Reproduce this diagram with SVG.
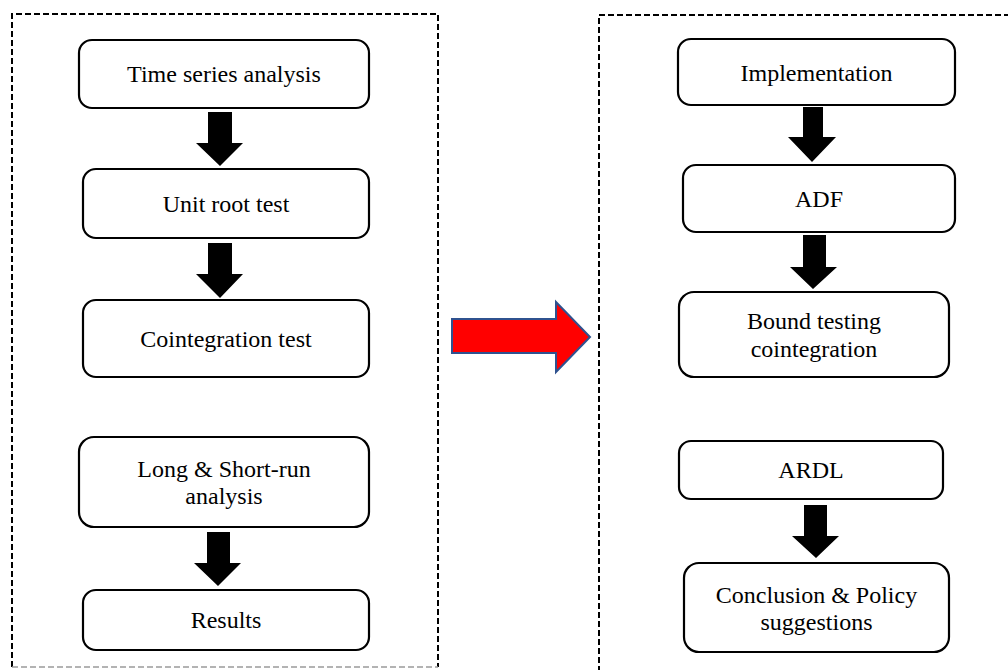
<svg xmlns="http://www.w3.org/2000/svg" width="1008" height="670" viewBox="0 0 1008 670">
  <style>
    .frame { fill: none; stroke: #000; stroke-width: 2; stroke-dasharray: 6 3; }
    .box { fill: #fff; stroke: #000; stroke-width: 2.2; }
    .lbl { font-family: "Liberation Serif", "Times New Roman", serif; font-size: 24px; fill: #000; text-anchor: middle; }
    .down { fill: #000; }
  </style>
  <rect width="1008" height="670" fill="#fff"/>

  <!-- dashed frames -->
  <g id="frame-left">
    <path class="frame" d="M12,667 V14 H438 V667"/>
    <path d="M12,667 H438" fill="none" stroke="#9a9a9a" stroke-width="1.5" stroke-dasharray="6 3"/>
  </g>
  <g id="frame-right">
    <path class="frame" d="M599,672 V15 H1012"/>
  </g>

  <!-- left column -->
  <g id="n-time-series">
    <rect class="box" x="79" y="40" width="290" height="68" rx="13"/>
    <text class="lbl" x="224" y="82">Time series analysis</text>
  </g>
  <g id="n-unit-root">
    <rect class="box" x="83" y="169" width="286" height="69" rx="13"/>
    <text class="lbl" x="226" y="212">Unit root test</text>
  </g>
  <g id="n-cointegration">
    <rect class="box" x="83" y="300" width="286" height="77" rx="13"/>
    <text class="lbl" x="226" y="347">Cointegration test</text>
  </g>
  <g id="n-long-short">
    <rect class="box" x="79" y="437" width="290" height="90" rx="15"/>
    <text class="lbl" x="224" y="477">Long &amp; Short-run</text>
    <text class="lbl" x="224" y="504">analysis</text>
  </g>
  <g id="n-results">
    <rect class="box" x="83" y="590" width="286" height="60" rx="13"/>
    <text class="lbl" x="226" y="628">Results</text>
  </g>

  <!-- right column -->
  <g id="n-implementation">
    <rect class="box" x="678" y="39" width="277" height="66" rx="13"/>
    <text class="lbl" x="816.5" y="81">Implementation</text>
  </g>
  <g id="n-adf">
    <rect class="box" x="683" y="165" width="272" height="67" rx="13"/>
    <text class="lbl" x="819" y="207">ADF</text>
  </g>
  <g id="n-bound">
    <rect class="box" x="679" y="292" width="270" height="85" rx="15"/>
    <text class="lbl" x="814" y="329">Bound testing</text>
    <text class="lbl" x="814" y="357">cointegration</text>
  </g>
  <g id="n-ardl">
    <rect class="box" x="679" y="441" width="264" height="58" rx="12"/>
    <text class="lbl" x="811" y="478">ARDL</text>
  </g>
  <g id="n-conclusion">
    <rect class="box" x="684" y="563" width="265" height="89" rx="15"/>
    <text class="lbl" x="816.5" y="603">Conclusion &amp; Policy</text>
    <text class="lbl" x="816.5" y="630">suggestions</text>
  </g>

  <!-- connectors: block arrows -->
  <g id="connectors">
    <polygon class="down" points="208,112 232,112 232,143 243,143 220,166 196,143 208,143"/>
    <polygon class="down" points="208,243 232,243 232,274 243,274 220,298 196,274 208,274"/>
    <polygon class="down" points="207,532 230,532 230,563 241,563 218,586 194,563 207,563"/>
    <polygon class="down" points="803,107 823,107 823,137 836,137 812,162 788,137 803,137"/>
    <polygon class="down" points="803,235 826,235 826,267 837,267 813,289 790,267 803,267"/>
    <polygon class="down" points="804,505 827,505 827,536 839,536 816,558 792,536 804,536"/>
    <polygon points="452,319 556,319 556,302 590,337 556,372 556,353 452,353" fill="#ff0000" stroke="#2f528f" stroke-width="2" stroke-linejoin="miter"/>
  </g>
</svg>
